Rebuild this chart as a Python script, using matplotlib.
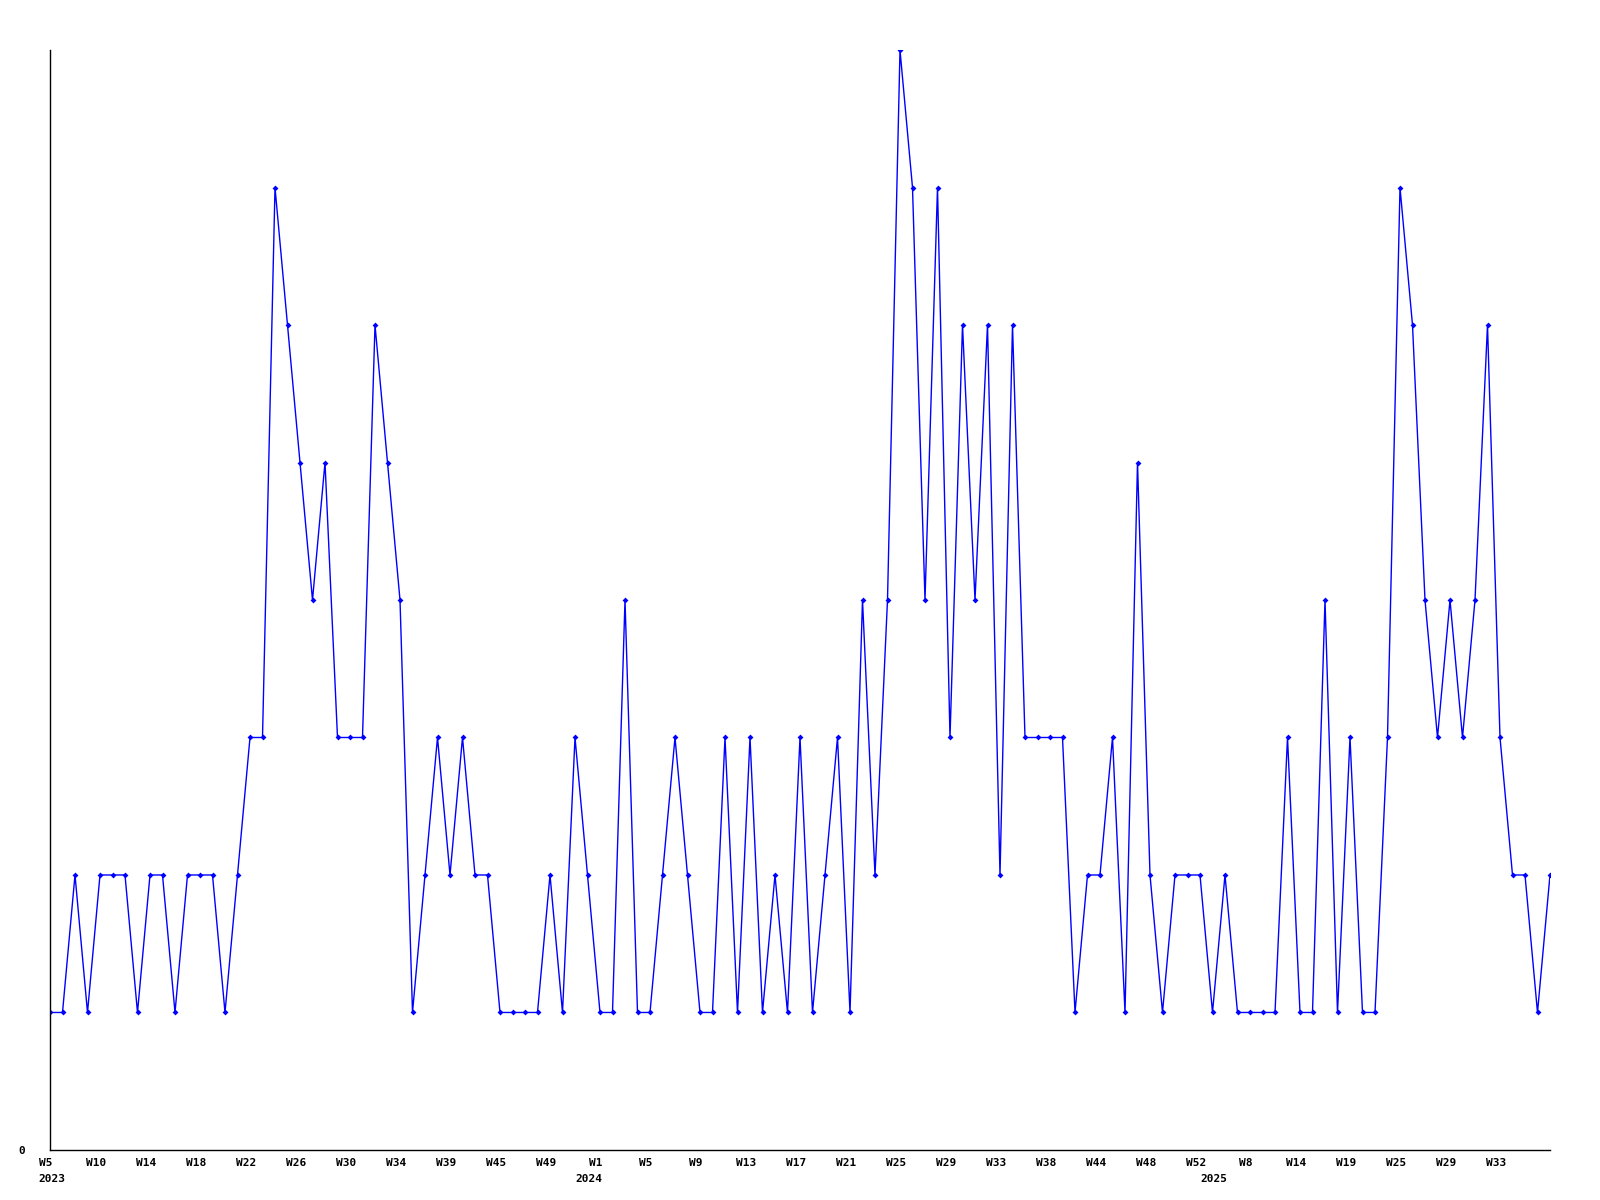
import numpy as np
import matplotlib
matplotlib.use("Agg")
import matplotlib.pyplot as plt
import matplotlib.transforms as mtrans

# weekly counts, one value per listed week
values = [1, 1, 2, 1, 2, 2, 2, 1, 2, 2, 1, 2, 2, 2, 1, 2, 3, 3, 7, 6,
          5, 4, 5, 3, 3, 3, 6, 5, 4, 1, 2, 3, 2, 3, 2, 2, 1, 1, 1, 1,
          2, 1, 3, 2, 1, 1, 4, 1, 1, 2, 3, 2, 1, 1, 3, 1, 3, 1, 2, 1,
          3, 1, 2, 3, 1, 4, 2, 4, 8, 7, 4, 7, 3, 6, 4, 6, 2, 6, 3, 3,
          3, 3, 1, 2, 2, 3, 1, 5, 2, 1, 2, 2, 2, 1, 2, 1, 1, 1, 1, 3,
          1, 1, 4, 1, 3, 1, 1, 3, 7, 6, 4, 3, 4, 3, 4, 6, 3, 2, 2, 1,
          2]

# labelled weeks (every 4th point)
week_labels = ["W5", "W10", "W14", "W18", "W22", "W26", "W30", "W34", "W39", "W45", "W49",
               "W1", "W5", "W9", "W13", "W17", "W21", "W25", "W29", "W33", "W38", "W44", "W48", "W52",
               "W8", "W14", "W19", "W25", "W29", "W33"]
year_labels = ["2023", "2024", "2025"]
year_at = [0, 43, 93]

x = np.arange(len(values))

fig = plt.figure(figsize=(16, 12), dpi=100)
ax = fig.add_axes([0.03125, 0.0417, 0.9375, 0.9166])

ax.plot(x, values, color="#0000ff", lw=1, marker="D", ms=3, mew=0)

ax.set_xlim(0, len(values) - 1)
ax.set_ylim(0, max(values))

ax.spines["top"].set_visible(False)
ax.spines["right"].set_visible(False)
for s in ["left", "bottom"]:
    ax.spines[s].set_linewidth(1)
    ax.spines[s].set_color("black")

font = dict(family="DejaVu Sans Mono", weight="bold", size=8)

ax.set_xticks(x[::4][:len(week_labels)])
ax.set_xticklabels(week_labels, **font)
ax.tick_params(axis="x", length=0, pad=6)
shift = mtrans.ScaledTranslation(-4 / 100, 0, fig.dpi_scale_trans)
for lab in ax.get_xticklabels():
    lab.set_transform(lab.get_transform() + shift)

ax.set_yticks([0])
ax.set_yticklabels(["0"], **font)
ax.tick_params(axis="y", length=0, pad=18)

for lab, pos in zip(year_labels, year_at):
    ax.annotate(lab, xy=(pos, 0), xycoords=("data", "axes fraction"),
                xytext=(1, -17), textcoords="offset points",
                ha="center", va="top", **font)

fig.savefig("out.png", dpi=100)
